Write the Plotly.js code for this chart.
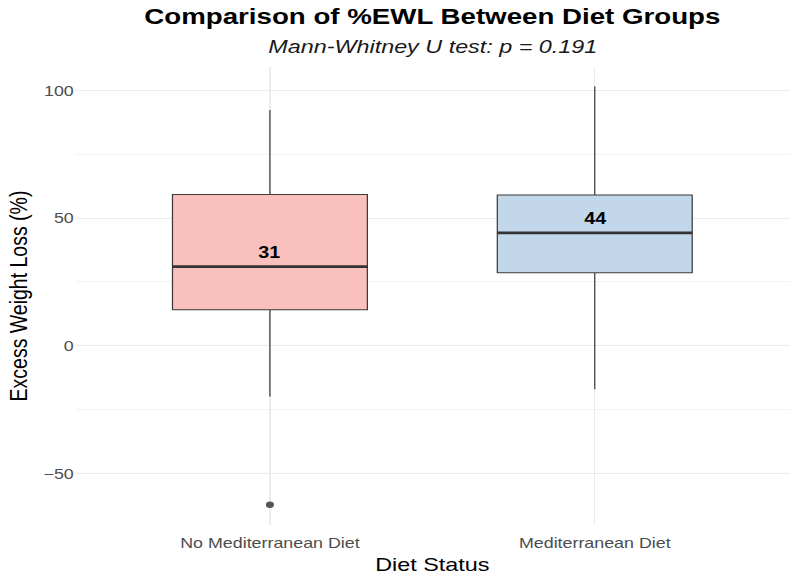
<!DOCTYPE html>
<html>
<head>
<meta charset="utf-8">
<script src="https://cdn.plot.ly/plotly-3.0.1.min.js"></script>
<style>
html,body{margin:0;padding:0;background:#fff;overflow:hidden;}
#chart{height:578px;transform-origin:0 0;}
</style>
</head>
<body>
<div id="chart"></div>
<script>
const categories = ["No Mediterranean Diet", "Mediterranean Diet"];
const lowerWhisker = [-19.9, -17.0];
const q1Values = [14.1, 28.6];
const medianValues = [31.0, 44.2];
const q3Values = [59.3, 59.1];
const upperWhisker = [92.4, 101.6];
const medianLabels = ["31", "44"];
const outlierCategory = ["No Mediterranean Diet"];
const outlierValues = [-62.3];
const fillColors = ["rgb(249,192,189)", "rgb(195,215,234)"];

// The reference image is horizontally stretched; reproduce it with a CSS scale.
const SX = 1.23;
const W = 800 / SX;
const el = document.getElementById("chart");
el.style.width = W + "px";
el.style.transform = "scaleX(" + SX + ")";

const font = "Liberation Sans, Arial, sans-serif";
const boxWidth = 0.6;

const traces = categories.map((c, i) => ({
  type: "box",
  x: [c],
  q1: [q1Values[i]],
  median: [medianValues[i]],
  q3: [q3Values[i]],
  lowerfence: [lowerWhisker[i]],
  upperfence: [upperWhisker[i]],
  width: boxWidth,
  whiskerwidth: 0,
  fillcolor: fillColors[i],
  line: {color: "#3a3a3a", width: 1},
  boxpoints: false,
  hoverinfo: "skip",
  showlegend: false
}));

traces.push({
  type: "scatter",
  mode: "markers",
  x: outlierCategory,
  y: outlierValues,
  marker: {color: "#555555", size: 6.5},
  hoverinfo: "skip",
  showlegend: false
});

const shapes = categories.map((c, i) => ({
  type: "line",
  xref: "x", yref: "y",
  x0: i - boxWidth / 2, x1: i + boxWidth / 2,
  y0: medianValues[i], y1: medianValues[i],
  line: {color: "#333333", width: 2.8},
  layer: "above"
}));

const annotations = categories.map((c, i) => ({
  x: c, y: medianValues[i], xref: "x", yref: "y",
  text: "<b>" + medianLabels[i] + "</b>",
  showarrow: false,
  yshift: 14,
  font: {family: font, size: 16, color: "#000"}
}));

annotations.push({
  xref: "paper", yref: "paper",
  x: 0.5, y: 1, yshift: 21,
  xanchor: "center", yanchor: "middle",
  text: "<i>Mann-Whitney U test: p = 0.191</i>",
  showarrow: false,
  font: {family: font, size: 19, color: "#1a1a1a"}
});

const layout = {
  width: W, height: 578,
  paper_bgcolor: "#fff", plot_bgcolor: "#fff",
  margin: {l: 75.5 / SX, r: 9.5 / SX, t: 67, b: 53},
  title: {
    text: "<b>Comparison of %EWL Between Diet Groups</b>",
    x: 0.5, xref: "paper", xanchor: "center",
    y: 1 - 16 / 578, yref: "container", yanchor: "middle",
    font: {family: font, size: 22.5, color: "#000"}
  },
  boxmode: "overlay",
  xaxis: {
    type: "category",
    categoryorder: "array",
    categoryarray: categories,
    range: [-0.6, 1.6],
    showgrid: true,
    gridcolor: "#ebebeb",
    gridwidth: 1,
    zeroline: false,
    showline: false,
    ticks: "",
    ticklabelstandoff: 8,
    tickfont: {family: font, size: 14.5, color: "#4d4d4d"},
    title: {text: "Diet Status", font: {family: font, size: 19, color: "#000"}, standoff: 7}
  },
  yaxis: {
    range: [-70.2, 109.2],
    tick0: 0, dtick: 50,
    showgrid: true,
    gridcolor: "#ebebeb",
    gridwidth: 1,
    minor: {tick0: 0, dtick: 25, showgrid: true, gridcolor: "#f3f3f3", gridwidth: 1},
    zeroline: false,
    showline: false,
    ticks: "",
    ticklabelstandoff: 8.5,
    tickfont: {family: font, size: 14.5, color: "#4d4d4d"},
    title: {text: "Excess Weight Loss (%)", font: {family: font, size: 19.5, color: "#000"}, standoff: 7}
  },
  shapes: shapes,
  annotations: annotations
};

Plotly.newPlot("chart", traces, layout, {displayModeBar: false, staticPlot: true});
</script>
</body>
</html>
